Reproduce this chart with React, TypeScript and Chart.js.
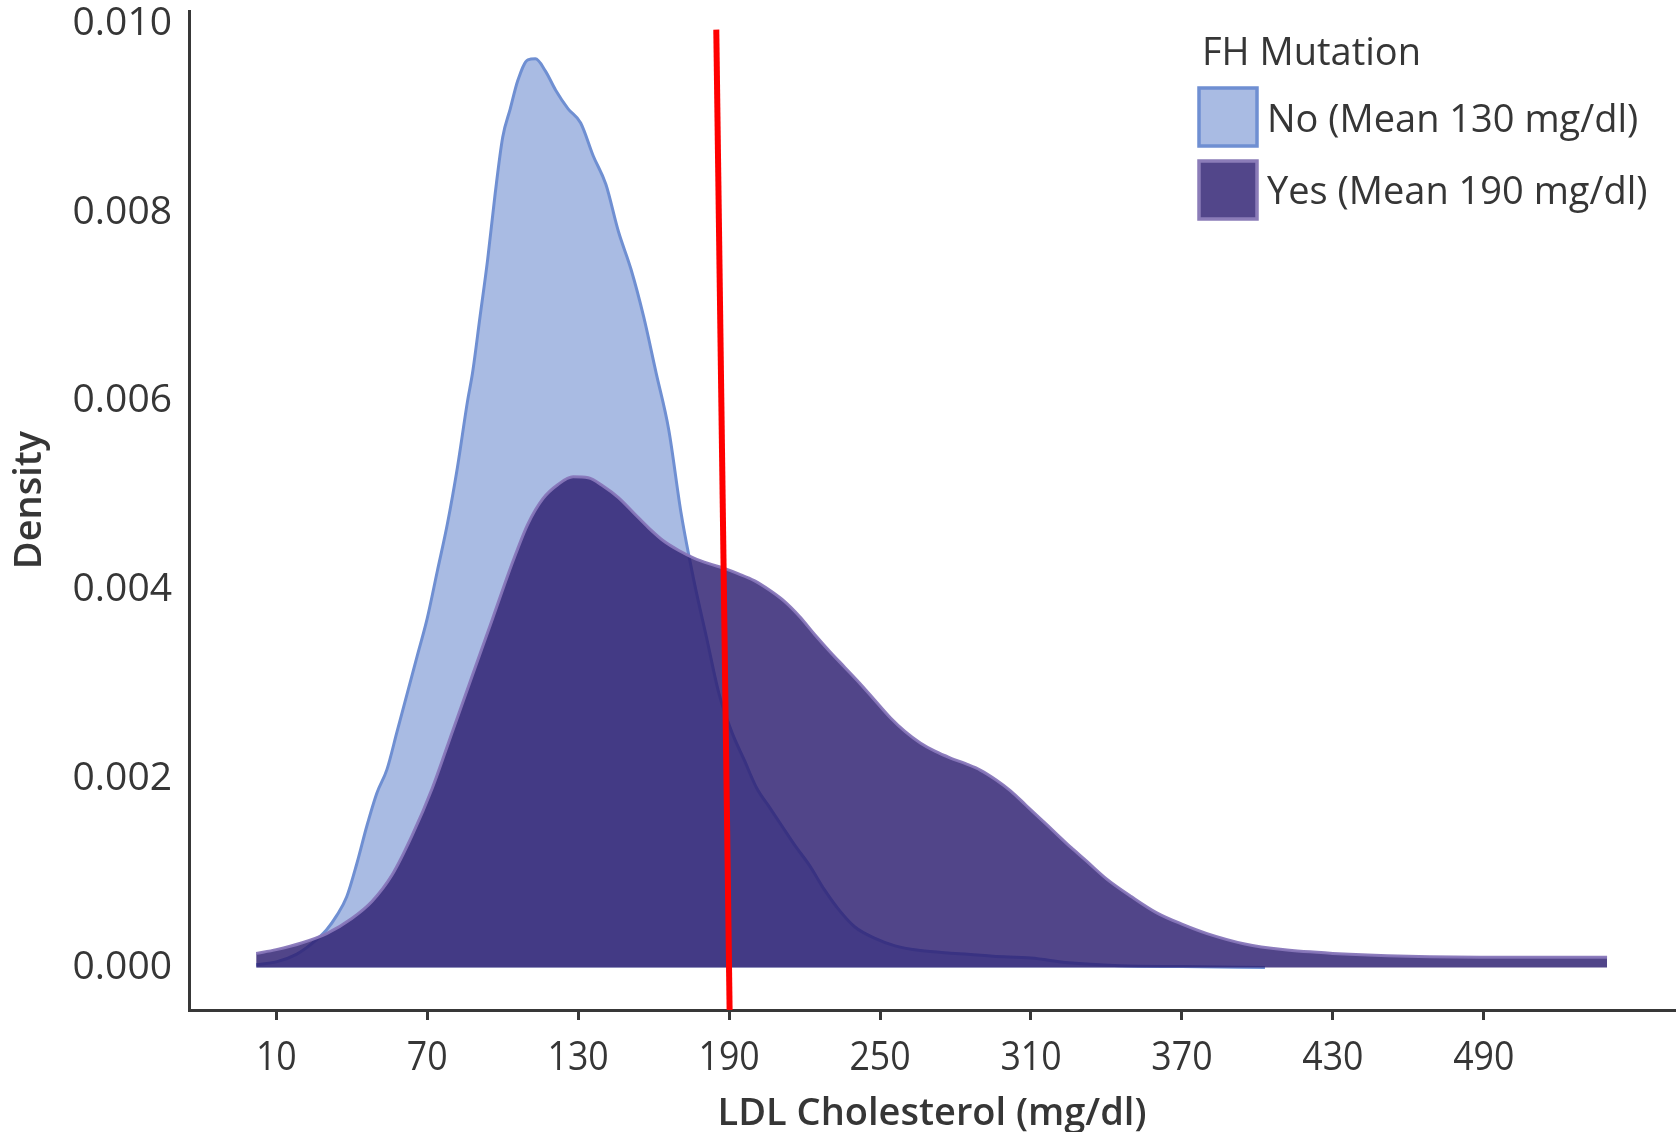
import React, { useEffect, useRef } from "react";
import { Chart, registerables } from "chart.js";

Chart.register(...registerables);

// ---- Data ----
const X_TICKS = [10, 70, 130, 190, 250, 310, 370, 430, 490];
const Y_TICKS = [0, 0.002, 0.004, 0.006, 0.008, 0.01];

const LDL_NO = [2, 10, 18, 24, 30, 34, 38, 42, 46, 50, 54, 58, 62, 66, 70, 74, 78, 82, 86, 88, 91, 94, 97, 100, 103, 106, 110, 113, 117, 121, 126, 131, 136, 141, 146, 151, 156, 161, 166, 171, 176, 181, 186, 191, 196, 201, 206, 211, 216, 222, 228, 234, 240, 248, 256, 266, 280, 295, 310, 325, 345, 370, 403];
const DENSITY_NO = [0.00003, 0.00006, 0.00014, 0.00025, 0.0004, 0.00055, 0.00075, 0.0011, 0.0015, 0.00185, 0.0021, 0.0025, 0.0029, 0.0033, 0.0037, 0.0042, 0.0047, 0.0053, 0.006, 0.0063, 0.0069, 0.0075, 0.0082, 0.0088, 0.0091, 0.0094, 0.00962, 0.00963, 0.0095, 0.0093, 0.0091, 0.00895, 0.0086, 0.0083, 0.0078, 0.0074, 0.0069, 0.0063, 0.0057, 0.0048, 0.0041, 0.0035, 0.0029, 0.0025, 0.0022, 0.0019, 0.0017, 0.0015, 0.0013, 0.00108, 0.00082, 0.0006, 0.00043, 0.00031, 0.00023, 0.00018, 0.00015, 0.00012, 0.0001, 0.00005, 0.00002, 0.00001, 0];

const LDL_YES = [2, 10, 20, 30, 40, 48, 56, 64, 72, 80, 88, 96, 104, 110, 116, 122, 128, 134, 140, 146, 152, 158, 164, 170, 176, 182, 188, 194, 200, 206, 212, 218, 224, 230, 236, 242, 248, 254, 260, 266, 272, 278, 284, 290, 296, 302, 308, 314, 320, 326, 332, 340, 350, 360, 370, 380, 395, 410, 430, 460, 500, 539];
const DENSITY_YES = [0.00015, 0.00019, 0.00026, 0.00036, 0.00052, 0.0007, 0.00098, 0.0014, 0.0019, 0.0025, 0.0031, 0.0037, 0.0043, 0.0047, 0.00497, 0.00512, 0.0052, 0.00519, 0.0051, 0.00498, 0.00482, 0.00466, 0.00452, 0.00442, 0.00434, 0.00428, 0.00423, 0.00417, 0.0041, 0.004, 0.00388, 0.00372, 0.00353, 0.00335, 0.00318, 0.00301, 0.00283, 0.00265, 0.0025, 0.00238, 0.00229, 0.00222, 0.00216, 0.00209, 0.00199, 0.00187, 0.00172, 0.00157, 0.00142, 0.00127, 0.00113, 0.00094, 0.00075, 0.00058, 0.00046, 0.00036, 0.00025, 0.00019, 0.00015, 0.00012, 0.00011, 0.00011];

const MEAN_LINE_LDL = [184.9, 190.2];
const MEAN_LINE_DENSITY = [0.00994, -0.00045];

const LEGEND_TITLE = "FH Mutation";
const SERIES_LABELS = ["No (Mean 130 mg/dl)", "Yes (Mean 190 mg/dl)"];
const X_TITLE = "LDL Cholesterol (mg/dl)";
const Y_TITLE = "Density";

// ---- Styles ----
const TEXT_COLOR = "#363636";
const AXIS_COLOR = "#383838";
const NO_FILL = "#a9bbe3";
const NO_BORDER = "#6f8fd2";
const YES_FILL = "rgba(46,31,113,0.83)";
const YES_BORDER = "rgba(135,118,185,0.95)";
const YES_LEGEND_FILL = "#52468a";
const YES_LEGEND_BORDER = "#8b7cb8";

const overlayPlugin = {
  id: "overlay",
  afterDraw(chart: any) {
    const ctx = chart.ctx as CanvasRenderingContext2D;
    const ca = chart.chartArea;
    const xScale = chart.scales.x;
    ctx.save();
    ctx.fillStyle = TEXT_COLOR;

    // x tick labels (condensed look)
    ctx.font = "41px 'Open Sans'";
    ctx.textAlign = "center";
    ctx.textBaseline = "alphabetic";
    for (const v of X_TICKS) {
      const px = xScale.getPixelForValue(v);
      ctx.save();
      ctx.translate(px, 1070);
      ctx.scale(0.87, 1);
      ctx.fillText(String(v), 0, 0);
      ctx.restore();
    }

    // axis titles
    ctx.font = "600 38px 'Open Sans'";
    ctx.textAlign = "center";
    ctx.textBaseline = "middle";
    ctx.fillText(X_TITLE, (ca.left + ca.right) / 2, 1114);
    ctx.save();
    ctx.translate(30, 500);
    ctx.rotate(-Math.PI / 2);
    ctx.fillText(Y_TITLE, 0, 0);
    ctx.restore();

    // legend
    ctx.font = "38px 'Open Sans'";
    ctx.textAlign = "left";
    ctx.fillText(LEGEND_TITLE, 1202, 54);
    const boxes = [
      { y: 88, fill: NO_FILL, stroke: NO_BORDER, label: SERIES_LABELS[0], ty: 121 },
      { y: 161, fill: YES_LEGEND_FILL, stroke: YES_LEGEND_BORDER, label: SERIES_LABELS[1], ty: 193 },
    ];
    for (const b of boxes) {
      ctx.fillStyle = b.fill;
      ctx.fillRect(1199, b.y, 58, 58);
      ctx.strokeStyle = b.stroke;
      ctx.lineWidth = 3.5;
      ctx.strokeRect(1199, b.y, 58, 58);
      ctx.fillStyle = TEXT_COLOR;
      ctx.fillText(b.label, 1267, b.ty);
    }
    ctx.restore();
  },
};

export default function App() {
  const ref = useRef<HTMLCanvasElement | null>(null);

  useEffect(() => {
    if (!ref.current) return;
    const noData = LDL_NO.map((x, i) => ({ x, y: DENSITY_NO[i] }));
    const yesData = LDL_YES.map((x, i) => ({ x, y: DENSITY_YES[i] }));
    const meanData = MEAN_LINE_LDL.map((x, i) => ({ x, y: MEAN_LINE_DENSITY[i] }));

    const chart = new Chart(ref.current, {
      type: "line",
      data: {
        datasets: [
          {
            label: SERIES_LABELS[0],
            data: noData,
            backgroundColor: NO_FILL,
            borderColor: NO_BORDER,
            borderWidth: 3,
            fill: "origin",
            pointRadius: 0,
            cubicInterpolationMode: "monotone",
            order: 2,
          },
          {
            label: SERIES_LABELS[1],
            data: yesData,
            backgroundColor: YES_FILL,
            borderColor: YES_BORDER,
            borderWidth: 3,
            fill: "origin",
            pointRadius: 0,
            cubicInterpolationMode: "monotone",
            order: 1,
          },
          {
            label: "mean",
            data: meanData,
            borderColor: "#ff0000",
            borderWidth: 6,
            fill: false,
            pointRadius: 0,
            tension: 0,
            order: 0,
          },
        ],
      },
      options: {
        responsive: false,
        animation: false,
        devicePixelRatio: 1,
        layout: { padding: { top: 11, right: 5, left: 0, bottom: 0 } },
        plugins: {
          legend: { display: false },
          tooltip: { enabled: false },
          title: { display: false },
        },
        scales: {
          x: {
            type: "linear",
            min: -24.7,
            max: 566,
            afterBuildTicks: (s: any) => {
              s.ticks = X_TICKS.map((v) => ({ value: v }));
            },
            afterFit: (s: any) => {
              s.height = 122;
              s.paddingLeft = 0;
              s.paddingRight = 0;
            },
            ticks: { display: false },
            grid: {
              display: true,
              drawOnChartArea: false,
              drawTicks: true,
              tickLength: 10,
              tickWidth: 3,
              tickColor: AXIS_COLOR,
            },
            border: { display: true, color: AXIS_COLOR, width: 3 },
          },
          y: {
            type: "linear",
            min: -0.00045,
            max: 0.010137,
            afterBuildTicks: (s: any) => {
              s.ticks = Y_TICKS.map((v) => ({ value: v }));
            },
            afterFit: (s: any) => {
              s.width = 189;
              s.paddingTop = 0;
              s.paddingBottom = 0;
            },
            ticks: {
              padding: 17,
              color: TEXT_COLOR,
              font: { family: "'Open Sans'", size: 39 },
              callback: (v: any) => Number(v).toFixed(3),
            },
            grid: { display: true, drawOnChartArea: false, drawTicks: false },
            border: { display: true, color: AXIS_COLOR, width: 3 },
          },
        },
      },
      plugins: [overlayPlugin],
    } as any);
    return () => chart.destroy();
  }, []);

  return (
    <div style={{ position: "absolute", left: 0, top: 0, width: 1680, height: 1132, background: "#fff" }}>
      <canvas ref={ref} width={1680} height={1132} />
    </div>
  );
}
